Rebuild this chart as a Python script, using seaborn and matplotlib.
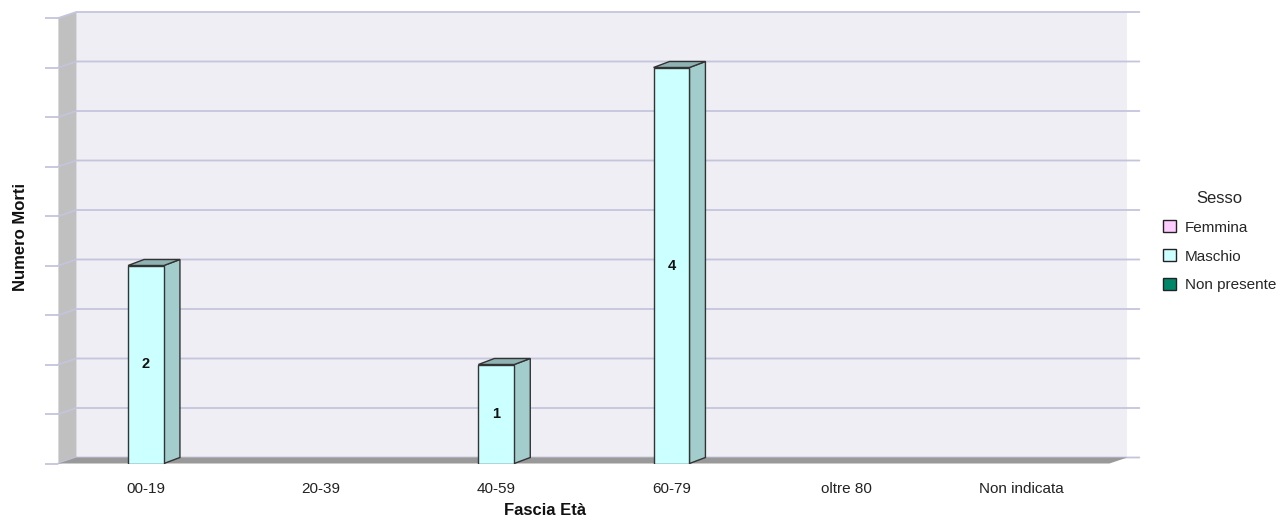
import numpy as np
import pandas as pd
import matplotlib.pyplot as plt
import seaborn as sns
from matplotlib.patches import Polygon, Patch, Rectangle

# ===================== dati =====================
fasce = ["00-19", "20-39", "40-59", "60-79", "oltre 80", "Non indicata"]
sessi = ["Femmina", "Maschio", "Non presente"]
femmine = [0, 0, 0, 0, 0, 0]
maschi = [2, 0, 1, 4, 0, 0]
non_presenti = [0, 0, 0, 0, 0, 0]
colori = ["#ffccff", "#ccffff", "#00876a"]
y_max = 4.5
y_passo = 0.5

df = pd.DataFrame({
    "fascia": fasce * 3,
    "sesso": np.repeat(sessi, len(fasce)),
    "morti": femmine + maschi + non_presenti,
})

sns.set_style("white")
plt.rcParams["font.family"] = ["Liberation Sans", "DejaVu Sans"]

col_griglia = "#c4c4dc"
col_muro = "#eeeef4"
col_lato = "#c0c0c0"
col_pavimento = "#999999"
col_bordo = "#333333"

fig = plt.figure(figsize=(12.8, 5.25), dpi=100)
ax = fig.add_axes([58.4 / 1280, 61.5 / 525, 1051 / 1280, 445.5 / 525])

sns.barplot(data=df, x="fascia", y="morti", hue="sesso", order=fasce, hue_order=sessi,
            palette=colori, saturation=1, width=0.615, errorbar=None,
            edgecolor=col_bordo, linewidth=1, legend=False, ax=ax, zorder=5)
barre = list(ax.patches)

ax.set_xlim(-0.5, len(fasce) - 0.5)
ax.set_ylim(0, y_max)
ax.set_facecolor("none")
ax.grid(False)
for s in ax.spines.values():
    s.set_visible(False)

# profondita' 3D: pixel -> unita' dati
pos = ax.get_position()
ppx = 1280 * pos.width / len(fasce)
ppy = 525 * pos.height / y_max
wdx, wdy = 18 / ppx, 6 / ppy
bdx, bdy = 16 / ppx, 6 / ppy
x0, x1 = -0.5, len(fasce) - 0.5

# muro di fondo, muro laterale, pavimento
ax.add_patch(Rectangle((x0 + wdx, wdy), x1 - x0, y_max, fc=col_muro, ec="none",
                       zorder=0, clip_on=False))
ax.add_patch(Polygon([(x0, 0), (x0, y_max), (x0 + wdx, y_max + wdy), (x0 + wdx, wdy)],
                     fc=col_lato, ec="none", zorder=1, clip_on=False))
yticks = np.arange(0, y_max + 0.01, y_passo)
for y in yticks:
    ax.plot([x0, x0 + wdx, x1 + wdx + 12 / ppx], [y, y + wdy, y + wdy],
            color=col_griglia, lw=1.3, zorder=1.5, clip_on=False)
ax.add_patch(Polygon([(x0, 0), (x1, 0), (x1 + wdx, wdy), (x0 + wdx, wdy)],
                     fc=col_pavimento, ec="none", zorder=2, clip_on=False))

# facce laterali e superiori delle barre
for p in barre:
    h = p.get_height()
    if h <= 0:
        p.set_visible(False)
        continue
    bx, bw = p.get_x(), p.get_width()
    fc = np.array(p.get_facecolor()[:3])
    ax.add_patch(Polygon([(bx + bw, 0), (bx + bw + bdx, bdy), (bx + bw + bdx, h + bdy), (bx + bw, h)],
                         fc=fc * 0.8, ec=col_bordo, lw=1, zorder=4, clip_on=False))
    ax.add_patch(Polygon([(bx, h), (bx + bdx, h + bdy), (bx + bw + bdx, h + bdy), (bx + bw, h)],
                         fc=fc * 0.7, ec=col_bordo, lw=1, zorder=4, clip_on=False))
    ax.text(bx + bw / 2, h / 2, f"{h:.0f}", ha="center", va="center",
            fontsize=10.5, fontweight="bold", color="#111111", zorder=6)

ax.set_yticks(yticks)
ax.set_yticklabels([])
ax.tick_params(axis="y", left=True, length=9.5, width=1.3, color=col_griglia)
ax.tick_params(axis="x", length=0, pad=13, labelsize=11, labelcolor="#222222")

ax.set_xlabel("Fascia Età", fontsize=12, fontweight="bold", color="#111111")
ax.set_ylabel("Numero Morti", fontsize=12, fontweight="bold", color="#111111")
ax.xaxis.set_label_coords(0.463, -0.089)
ax.yaxis.set_label_coords(-0.029, 0.508)

maniglie = [Patch(facecolor=c, edgecolor="#222222", lw=1, label=s) for c, s in zip(colori, sessi)]
leg = fig.legend(handles=maniglie, title="Sesso", loc="upper left",
                 bbox_to_anchor=(1149 / 1280, 1 - 177 / 525), frameon=False,
                 fontsize=11, title_fontsize=12, handlelength=0.85, handleheight=0.85,
                 handletextpad=0.6, labelspacing=0.95)

fig.savefig("out.png", dpi=100)
